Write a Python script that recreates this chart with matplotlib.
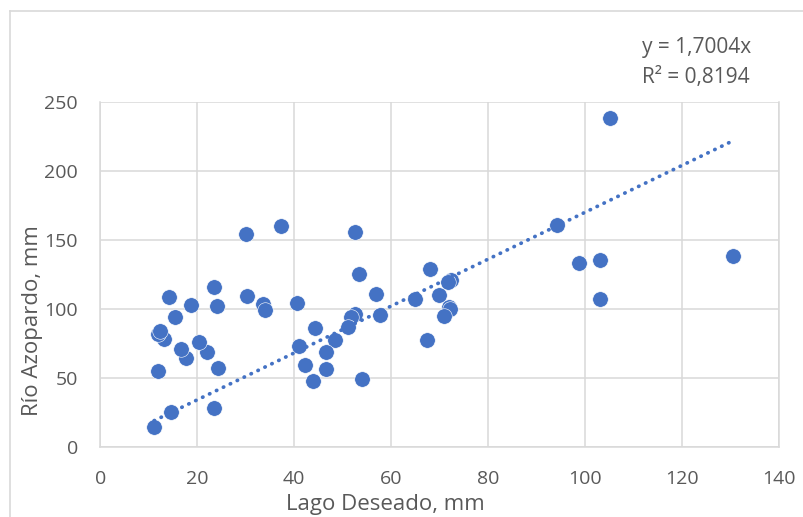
import matplotlib.pyplot as plt
from matplotlib.lines import Line2D
import numpy as np

plt.rcParams['font.family'] = ['Open Sans', 'DejaVu Sans']

# Lago Deseado vs Río Azopardo, mm
lago = [11.1, 14.5, 23.5, 11.8, 24.3, 17.6, 16.6, 21.9, 20.4, 13.1, 11.8, 12.3,
        15.4, 14.2, 18.7, 23.5, 24.1, 30.0, 37.2, 30.2, 33.5, 33.9, 40.6, 52.6,
        53.4, 56.8, 57.7, 52.5, 51.6, 51.0, 44.3, 48.4, 40.9, 46.5, 42.3, 46.5,
        43.9, 54.0, 94.2, 98.8, 103.1, 103.1, 68.0, 72.3, 71.8, 64.9, 69.8, 71.9,
        72.2, 70.9, 67.3, 105.1, 130.4]
azopardo = [14.5, 25.0, 28.3, 55.0, 57.0, 64.0, 71.0, 69.0, 76.0, 78.0, 81.5, 84.0,
            94.0, 108.6, 102.6, 116.0, 102.0, 154.0, 160.0, 109.0, 103.5, 99.0, 104.5, 156.0,
            125.0, 111.0, 95.6, 96.3, 94.3, 87.1, 86.4, 77.4, 73.0, 68.7, 59.3, 56.6,
            48.0, 49.0, 161.0, 133.5, 135.5, 107.0, 128.7, 121.0, 119.7, 107.0, 110.0, 101.6,
            100.0, 94.8, 77.4, 238.5, 138.6]
slope = 1.7004
r2 = 0.8194

blue = '#4472C4'
grid = '#D9D9D9'
txt = '#595959'

fig = plt.figure(figsize=(8.04, 5.17), dpi=100)
ax = fig.add_axes([0.1248, 0.1360, 0.8442, 0.6667])

# chart area border (left and top edges)
fig.add_artist(Line2D([10 / 804, 10 / 804], [0, 1 - 11 / 517], color=grid, lw=1.2))
fig.add_artist(Line2D([10 / 804, 1], [1 - 11 / 517, 1 - 11 / 517], color=grid, lw=1.2))

ax.scatter(lago, azopardo, s=125, color=blue, edgecolor='white', linewidth=0.4, zorder=3)

# linear trendline through the origin
xt = np.array([min(lago), max(lago)])
ax.plot(xt, slope * xt, color=blue, lw=2.7, linestyle=(0, (0.1, 1.95)),
        dash_capstyle='round', zorder=4)

ax.set_xlim(0, 140)
ax.set_ylim(0, 250)
ax.set_xticks(np.arange(0, 141, 20))
ax.set_yticks(np.arange(0, 251, 50))
ax.grid(True, color=grid, lw=1.1)
ax.set_axisbelow(True)
ax.spines['top'].set_visible(False)
for side in ['left', 'bottom', 'right']:
    ax.spines[side].set_color(grid)
    ax.spines[side].set_linewidth(1.1)
ax.tick_params(length=0, labelsize=14, colors=txt)
ax.tick_params(axis='y', pad=16)
ax.tick_params(axis='x', pad=17)

fig.text(385 / 804, 1 - 510 / 517, 'Lago Deseado, mm', ha='center', va='baseline',
         fontsize=16, color=txt)
fig.text(33 / 804, 1 - 321 / 517, 'Río Azopardo, mm', ha='center', va='center',
         rotation=90, fontsize=16, color=txt)

fig.text(642 / 804, 1 - 48 / 517, 'y = 1,7004x', ha='left', va='center',
         fontsize=15, color=txt)
fig.text(642 / 804, 1 - 78 / 517, 'R² = 0,8194', ha='left', va='center',
         fontsize=15, color=txt)

fig.savefig('out.png', dpi=100)
